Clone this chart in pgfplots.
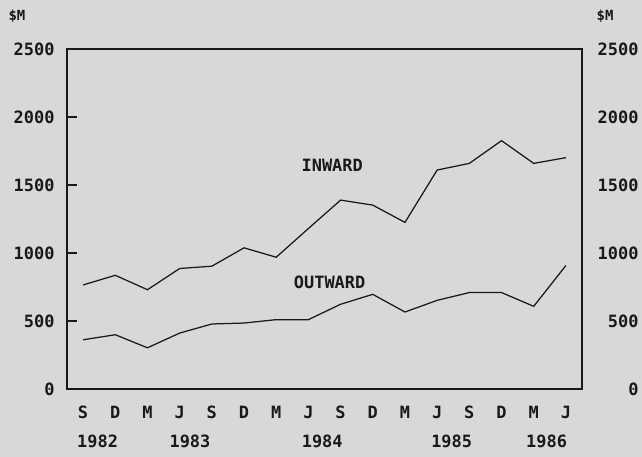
\documentclass[border=0pt]{standalone}
\usepackage{fontspec}
\setmainfont{DejaVu Sans Mono}
\usepackage{pgfplots}
\pgfplotsset{compat=1.18}
\definecolor{bg}{RGB}{216,216,216}
\definecolor{ink}{RGB}{25,25,25}
\newcommand{\lbl}{\bfseries\fontsize{17}{17}\selectfont}
\begin{document}
\begin{tikzpicture}
\fill[bg] (-67bp,-68bp) rectangle (575bp,389bp);
\useasboundingbox (-67bp,-68bp) rectangle (575bp,389bp);
\begin{axis}[
  scale only axis, width=515bp, height=340bp,
  at={(0,0)}, anchor=south west,
  xmin=-0.5, xmax=15.5, ymin=0, ymax=2500,
  clip=false,
  axis line style={ink, line width=1.1bp},
  xtick={0,...,15},
  xticklabels={S,D,M,J,S,D,M,J,S,D,M,J,S,D,M,J},
  x tick style={draw=none},
  x tick label style={anchor=base, yshift=-29bp, font=\lbl, text=ink},
  ytick={0,500,1000,1500,2000,2500},
  ytick pos=left, tick align=inside, major tick length=10bp,
  y tick style={ink, line width=1.1bp},
  y tick label style={font=\lbl, text=ink, xshift=-9bp},
  /pgf/number format/assume math mode=true,
  /pgf/number format/set thousands separator={},
]
\addplot[ink, line width=1.25bp] coordinates {
 (0,765) (1,836) (2,730) (3,886) (4,903) (5,1038) (6,969) (7,1180)
 (8,1389) (9,1352) (10,1225) (11,1610) (12,1659) (13,1826) (14,1659) (15,1701)};
\addplot[ink, line width=1.25bp] coordinates {
 (0,362) (1,399) (2,303) (3,411) (4,478) (5,485) (6,510) (7,510)
 (8,623) (9,696) (10,566) (11,652) (12,709) (13,709) (14,608) (15,908)};
\node[font=\lbl, text=ink] at (axis cs:7.74,1647) {INWARD};
\node[font=\lbl, text=ink] at (axis cs:7.66,787) {OUTWARD};
\pgfplotsinvokeforeach{0,500,1000,1500,2000,2500}{
  \node[anchor=east, font=\lbl, text=ink] at ([xshift=60bp]axis cs:15.5,#1) {#1};
}
\node[anchor=base, font=\lbl, text=ink] at ([yshift=-58bp]axis cs:0.45,0) {1982};
\node[anchor=base, font=\lbl, text=ink] at ([yshift=-58bp]axis cs:3.32,0) {1983};
\node[anchor=base, font=\lbl, text=ink] at ([yshift=-58bp]axis cs:7.43,0) {1984};
\node[anchor=base, font=\lbl, text=ink] at ([yshift=-58bp]axis cs:11.45,0) {1985};
\node[anchor=base, font=\lbl, text=ink] at ([yshift=-58bp]axis cs:14.4,0) {1986};
\node[font=\bfseries\fontsize{14}{14}\selectfont, text=ink] at ([xshift=-50bp,yshift=33bp]axis cs:-0.5,2500) {\$M};
\node[font=\bfseries\fontsize{14}{14}\selectfont, text=ink] at ([xshift=23bp,yshift=33bp]axis cs:15.5,2500) {\$M};
\end{axis}
\end{tikzpicture}
\end{document}
